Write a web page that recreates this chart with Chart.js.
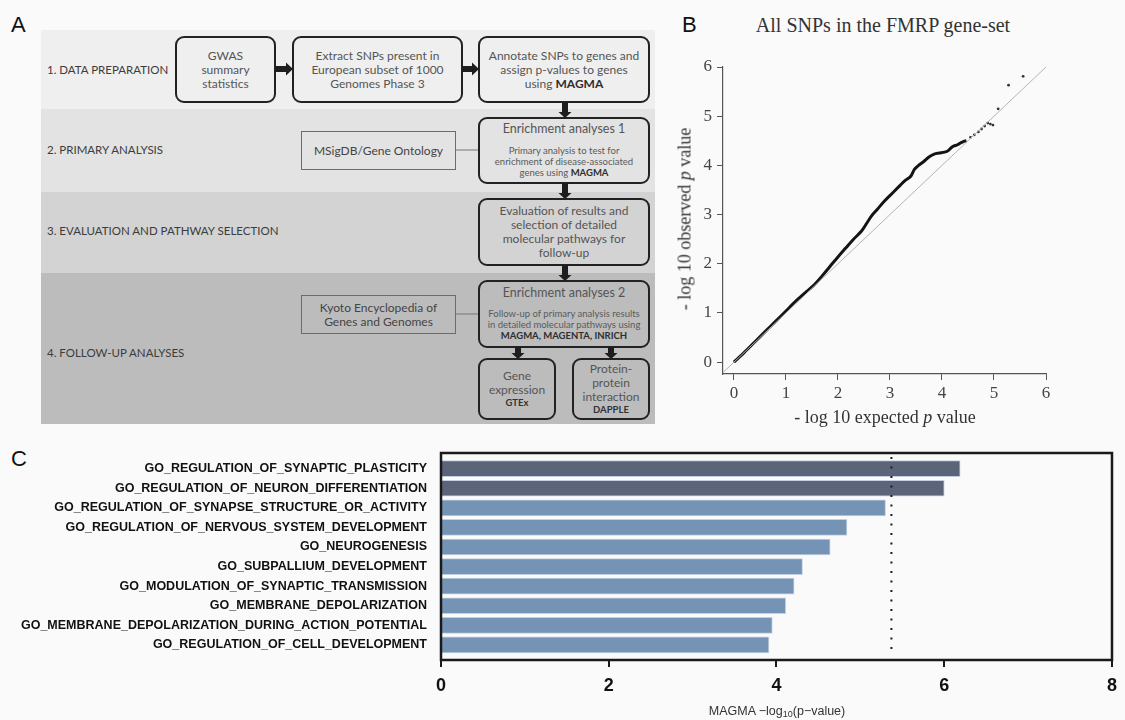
<!DOCTYPE html>
<html>
<head>
<meta charset="utf-8">
<script src="https://cdn.jsdelivr.net/npm/chart.js@4/dist/chart.umd.min.js"></script>
<style>
  html, body { margin: 0; padding: 0; }
  body { width: 1125px; height: 720px; background: #fafafa; position: relative; overflow: hidden; font-family: Lato, "Open Sans", sans-serif; }
  .panel-letter { position: absolute; font: 22px "Liberation Sans", Arial, sans-serif; color: #111; line-height: 1; }
  .band { position: absolute; left: 41px; width: 614px; }
  .rowlab { position: absolute; left: 47px; font-size: 11.5px; color: #3c3c3c; transform: translateY(-50%); white-space: nowrap; }
  .box { position: absolute; box-sizing: border-box; border: 2.6px solid #222; border-radius: 9px;
         display: flex; flex-direction: column; align-items: center; justify-content: center;
         text-align: center; font-size: 12px; line-height: 14px; color: #555; }
  .box.top { justify-content: flex-start; }
  .box b { color: #2e2e2e; font-weight: 700; }
  .box .small { font-size: 9.5px; line-height: 11px; color: #5a5a5a; }
  .box .tool { font-size: 9.5px; line-height: 12px; color: #333; font-weight: 700; }
  .src { position: absolute; box-sizing: border-box; border: 1.3px solid #6c6c6c; display: flex; flex-direction: column;
         align-items: center; justify-content: center; text-align: center; font-size: 12px; line-height: 14px; color: #444; }
  .serif { position: absolute; font-family: "Liberation Serif", "Times New Roman", serif; color: #333; white-space: nowrap; }
  #qqWrap { position: absolute; left: 660px; top: 0; width: 465px; height: 440px; }
  #barWrap { position: absolute; left: 0; top: 440px; width: 1125px; height: 280px; }
  #magmaTitle { position: absolute; left: 777px; top: 711px; transform: translate(-50%, -50%);
                font: 12.5px "Liberation Sans", Arial, sans-serif; color: #333; white-space: nowrap; }
  #magmaTitle sub { font-size: 9px; vertical-align: -2px; line-height: 0; }
</style>
</head>
<body>

<!-- A: analysis workflow -->
<div class="panel-letter" style="left:11px;top:14px;">A</div>
<div class="band" style="top:30px;height:79px;background:#efefef;"></div>
<div class="band" style="top:109px;height:83px;background:#e3e3e3;"></div>
<div class="band" style="top:192px;height:81px;background:#d3d3d3;"></div>
<div class="band" style="top:273px;height:151px;background:#bcbcbc;"></div>

<div class="rowlab" style="top:69px;">1. DATA PREPARATION</div>
<div class="rowlab" style="top:149px;">2. PRIMARY ANALYSIS</div>
<div class="rowlab" style="top:230px;">3. EVALUATION AND PATHWAY SELECTION</div>
<div class="rowlab" style="top:352px;">4. FOLLOW-UP ANALYSES</div>

<div class="box" style="left:175px;top:36px;width:101px;height:67px;">
  <div>GWAS</div><div>summary</div><div>statistics</div>
</div>
<div class="box" style="left:292px;top:36px;width:171px;height:67px;">
  <div>Extract SNPs present in</div><div>European subset of 1000</div><div>Genomes Phase 3</div>
</div>
<div class="box" style="left:478px;top:36px;width:172px;height:67px;">
  <div>Annotate SNPs to genes and</div><div>assign p-values to genes</div><div>using <b>MAGMA</b></div>
</div>

<div class="src" style="left:301px;top:131px;width:155px;height:39px;">MSigDB/Gene Ontology</div>
<div class="box top" style="left:478px;top:117px;width:172px;height:67px;padding-top:2.5px;">
  <div style="font-size:12.5px;">Enrichment analyses 1</div>
  <div class="small" style="margin-top:9.5px;">Primary analysis to test for</div>
  <div class="small">enrichment of disease-associated</div>
  <div class="small">genes using <b>MAGMA</b></div>
</div>

<div class="box" style="left:478px;top:198px;width:172px;height:68px;">
  <div>Evaluation of results and</div><div>selection of detailed</div><div>molecular pathways for</div><div>follow-up</div>
</div>

<div class="src" style="left:301px;top:295px;width:155px;height:39px;">
  <div>Kyoto Encyclopedia of</div><div>Genes and Genomes</div>
</div>
<div class="box top" style="left:478px;top:280px;width:172px;height:68px;padding-top:3.5px;">
  <div style="font-size:12.5px;">Enrichment analyses 2</div>
  <div class="small" style="margin-top:8.5px;">Follow-up of primary analysis results</div>
  <div class="small">in detailed molecular pathways using</div>
  <div class="small"><b>MAGMA, MAGENTA, INRICH</b></div>
</div>

<div class="box" style="left:478px;top:358px;width:78px;height:62px;">
  <div>Gene</div><div>expression</div><div class="tool">GTEx</div>
</div>
<div class="box" style="left:572px;top:358px;width:78px;height:62px;">
  <div>Protein-</div><div>protein</div><div>interaction</div><div class="tool">DAPPLE</div>
</div>

<svg id="flowArrows" width="660" height="440" style="position:absolute;left:0;top:0;overflow:visible;">
  <line x1="456" y1="150" x2="478" y2="150" stroke="#777" stroke-width="1"/>
  <line x1="456" y1="314" x2="478" y2="314" stroke="#777" stroke-width="1"/>
</svg>

<!-- B: QQ plot -->
<div class="panel-letter" style="left:682px;top:14px;">B</div>
<div class="serif" style="left:883px;top:25px;transform:translate(-50%,-50%);font-size:20px;">All SNPs in the FMRP gene-set</div>
<div id="qqWrap"><canvas id="qq" width="465" height="440"></canvas></div>
<div class="serif" style="left:885px;top:417px;transform:translate(-50%,-50%);font-size:18px;">- log 10 expected <i>p</i> value</div>
<div class="serif" style="left:685px;top:219px;transform:translate(-50%,-50%) rotate(-90deg);font-size:18px;">- log 10 observed <i>p</i> value</div>

<!-- C: gene-set enrichment -->
<div class="panel-letter" style="left:11px;top:448px;">C</div>
<div id="barWrap"><canvas id="bars" width="1125" height="280"></canvas></div>
<div id="magmaTitle">MAGMA −log<sub>10</sub>(p−value)</div>

<script>
// ---- QQ plot (B) ----
const qqExpected = [0, 0.2, 0.4, 0.6, 0.8, 1.0, 1.2, 1.4, 1.55, 1.7, 1.85, 2.0, 2.15, 2.3, 2.45, 2.55, 2.65,
                    2.75, 2.9, 3.05, 3.2, 3.3, 3.4, 3.47, 3.55, 3.65, 3.75, 3.85, 3.95, 4.05, 4.12, 4.2, 4.3, 4.4, 4.47];
const qqObserved = [0, 0.2, 0.41, 0.62, 0.83, 1.04, 1.25, 1.44, 1.58, 1.76, 1.95, 2.14, 2.32, 2.5, 2.66, 2.82, 2.98,
                    3.1, 3.28, 3.44, 3.6, 3.7, 3.78, 3.92, 4.0, 4.08, 4.17, 4.23, 4.25, 4.27, 4.3, 4.38, 4.42, 4.48, 4.5];
const tailExpected = [4.55, 4.62, 4.7, 4.76, 4.82, 4.88, 4.93, 4.98, 5.08, 5.28, 5.56];
const tailObserved = [4.57, 4.62, 4.68, 4.74, 4.8, 4.86, 4.84, 4.82, 5.15, 5.63, 5.81];
const qqTicks = [0, 1, 2, 3, 4, 5, 6];
const qqMin = -0.21, qqMinY = -0.24, qqMax = 6;

// ---- MAGMA gene-set results (C) ----
const goTerms = [
  'GO_REGULATION_OF_SYNAPTIC_PLASTICITY',
  'GO_REGULATION_OF_NEURON_DIFFERENTIATION',
  'GO_REGULATION_OF_SYNAPSE_STRUCTURE_OR_ACTIVITY',
  'GO_REGULATION_OF_NERVOUS_SYSTEM_DEVELOPMENT',
  'GO_NEUROGENESIS',
  'GO_SUBPALLIUM_DEVELOPMENT',
  'GO_MODULATION_OF_SYNAPTIC_TRANSMISSION',
  'GO_MEMBRANE_DEPOLARIZATION',
  'GO_MEMBRANE_DEPOLARIZATION_DURING_ACTION_POTENTIAL',
  'GO_REGULATION_OF_CELL_DEVELOPMENT'
];
const magmaScores = [6.19, 6.0, 5.3, 4.84, 4.64, 4.31, 4.21, 4.11, 3.95, 3.91];
const significanceCutoff = 5.37;
const scoreTicks = [0, 2, 4, 6, 8];

// workflow arrows
(function drawArrows() {
  const svg = document.getElementById('flowArrows');
  const ns = 'http://www.w3.org/2000/svg';
  const add = pts => {
    const p = document.createElementNS(ns, 'polygon');
    p.setAttribute('points', pts.map(q => q.join(',')).join(' '));
    p.setAttribute('fill', '#1e1e1e');
    svg.appendChild(p);
  };
  const right = (x1, x2, cy) => add([[x1, cy - 3], [x2 - 7, cy - 3], [x2 - 7, cy - 6.5], [x2, cy], [x2 - 7, cy + 6.5], [x2 - 7, cy + 3], [x1, cy + 3]]);
  const down = (cx, y1, y2) => add([[cx - 3, y1], [cx + 3, y1], [cx + 3, y2 - 6], [cx + 6.5, y2 - 6], [cx, y2], [cx - 6.5, y2 - 6], [cx - 3, y2 - 6]]);
  right(275, 293, 69);
  right(462, 479, 69);
  down(565, 102, 118);
  down(565, 183, 199);
  down(565, 265, 281);
  down(518, 347, 359);
  down(611, 347, 359);
})();

const serifTick = { family: 'Liberation Serif', size: 17 };
// keep the plotting area fixed: no extra room reserved for end labels
const noEdgePadding = s => { s.paddingTop = 0; s.paddingBottom = 0; };

new Chart(document.getElementById('qq'), {
  type: 'scatter',
  data: {
    datasets: [
      {
        type: 'line',
        data: [{ x: qqMin, y: qqMin }, { x: qqMax, y: qqMax }],
        borderColor: '#b4b4b4', borderWidth: 1, pointRadius: 0
      },
      {
        type: 'line',
        data: qqExpected.map((x, i) => ({ x, y: qqObserved[i] })),
        borderColor: '#141414', borderWidth: 3, pointRadius: 0, tension: 0.3
      },
      {
        type: 'scatter',
        data: tailExpected.map((x, i) => ({ x, y: tailObserved[i] })),
        backgroundColor: '#333', borderWidth: 0, pointRadius: 1.4
      }
    ]
  },
  options: {
    responsive: false, animation: false,
    layout: { padding: { left: 0, right: 79, top: 67, bottom: 0 } },
    plugins: { legend: { display: false }, tooltip: { enabled: false } },
    scales: {
      x: {
        type: 'linear', min: qqMin, max: qqMax,
        afterBuildTicks: a => { a.ticks = qqTicks.map(v => ({ value: v })); },
        afterFit: s => { s.height = 66; },
        grid: { drawOnChartArea: false, drawTicks: true, tickLength: 6, color: '#555', lineWidth: 1 },
        border: { color: '#555', width: 1.2 },
        ticks: { font: serifTick, color: '#444', padding: 3, maxRotation: 0 }
      },
      y: {
        type: 'linear', min: qqMinY, max: qqMax,
        afterBuildTicks: a => { a.ticks = qqTicks.map(v => ({ value: v })); },
        afterFit: s => { s.width = 63; noEdgePadding(s); },
        grid: { drawOnChartArea: false, drawTicks: true, tickLength: 6, color: '#555', lineWidth: 1 },
        border: { color: '#555', width: 1.2 },
        ticks: { font: serifTick, color: '#444', padding: 5 }
      }
    }
  }
});

// box around the plotting area and the significance threshold
const frameAndCutoff = {
  id: 'frameAndCutoff',
  afterDatasetsDraw(chart) {
    const { ctx, chartArea: a, scales } = chart;
    const x = scales.x.getPixelForValue(significanceCutoff);
    ctx.save();
    ctx.strokeStyle = '#1a1a1a';
    ctx.lineWidth = 2;
    ctx.setLineDash([2, 7.5]);
    ctx.beginPath();
    ctx.moveTo(x, a.top + 4);
    ctx.lineTo(x, a.bottom - 6);
    ctx.stroke();
    ctx.setLineDash([]);
    ctx.lineWidth = 2.5;
    ctx.strokeRect(a.left, a.top, a.right - a.left, a.bottom - a.top);
    ctx.restore();
  }
};

new Chart(document.getElementById('bars'), {
  type: 'bar',
  data: {
    datasets: [{
      data: magmaScores.map((v, i) => ({ x: v, y: i })),
      backgroundColor: magmaScores.map(v => v > significanceCutoff ? '#5c6479' : '#7593b4'),
      borderColor: '#c3d0e0', borderWidth: 1, borderSkipped: 'start',
      barThickness: 16
    }]
  },
  options: {
    indexAxis: 'y',
    responsive: false, animation: false,
    layout: { padding: { left: 0, right: 12, top: 13, bottom: 0 } },
    plugins: { legend: { display: false }, tooltip: { enabled: false } },
    scales: {
      x: {
        type: 'linear', min: 0, max: 8,
        afterBuildTicks: a => { a.ticks = scoreTicks.map(v => ({ value: v })); },
        afterFit: s => { s.height = 60; },
        grid: { drawOnChartArea: false, drawTicks: true, tickLength: 7, color: '#1a1a1a', lineWidth: 2 },
        border: { display: false },
        ticks: { font: { family: 'Liberation Sans', size: 18, weight: 'bold' }, color: '#111', padding: 8, maxRotation: 0 }
      },
      y: {
        type: 'linear', reverse: true, min: -0.8, max: 9.77, offset: false,
        afterBuildTicks: a => { a.ticks = goTerms.map((_, i) => ({ value: i })); },
        afterFit: s => { s.width = 441; noEdgePadding(s); },
        grid: { display: false, offset: false },
        border: { display: false },
        ticks: {
          callback: v => goTerms[v],
          font: { family: 'Liberation Sans', size: 12.5, weight: 'bold' }, color: '#111', padding: 6
        }
      }
    }
  },
  plugins: [frameAndCutoff]
});
</script>
</body>
</html>
